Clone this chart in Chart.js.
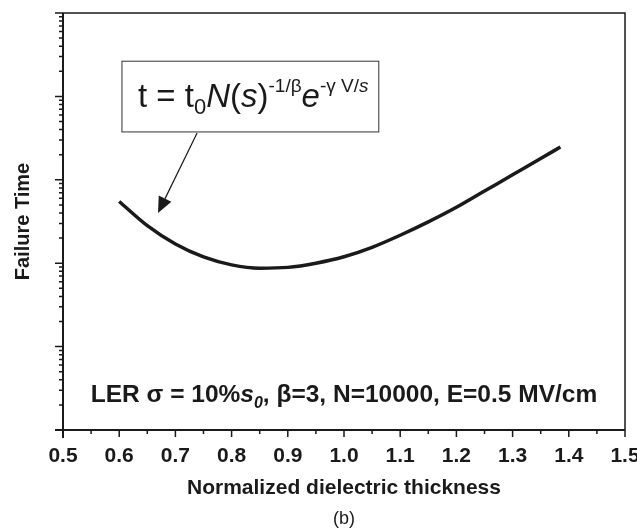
<!DOCTYPE html>
<html>
<head>
<meta charset="utf-8">
<script src="https://cdn.jsdelivr.net/npm/chart.js@4.4.0/dist/chart.umd.min.js"></script>
<style>
  html, body { margin: 0; padding: 0; background: #fff; }
  #wrap { width: 637px; height: 532px; }
</style>
</head>
<body>
<div id="wrap"><canvas id="chart"></canvas></div>
<script>
// normalized dielectric thickness (s/s0) and failure time (arbitrary units, log axis)
const thickness   = [0.60, 0.65, 0.70, 0.75, 0.80, 0.85, 0.90, 0.95, 1.00, 1.05, 1.10, 1.15, 1.20, 1.25, 1.30, 1.35, 1.385];
const failureTime = [549.5, 281.8, 169.8, 118.9, 95.5, 87.1, 89.1, 100, 119.4, 154.9, 216.3, 312.6, 467.7, 732.8, 1148, 1799, 2472];
const xRange = [0.5, 1.5];
const yRange = [1, 1e5];

const ink = '#1a1a1a';
const FONT = '"Liberation Sans", Arial, Helvetica, sans-serif';

function drawRich(ctx, parts, x, y, align) {
  let w = 0;
  parts.forEach(p => { ctx.font = p.font; w += ctx.measureText(p.t).width; });
  let cx = align === 'center' ? x - w / 2 : x;
  parts.forEach(p => {
    ctx.font = p.font;
    ctx.fillText(p.t, cx, y + (p.dy || 0));
    cx += ctx.measureText(p.t).width;
  });
}

const frameAndNotes = {
  id: 'frameAndNotes',
  afterDraw(chart) {
    const { ctx, chartArea: a, scales: { x, y } } = chart;
    ctx.save();
    ctx.strokeStyle = ink;
    ctx.fillStyle = ink;

    // axes (a little past the corner, like the original)
    ctx.lineWidth = 2;
    ctx.beginPath();
    ctx.moveTo(a.left - 8, a.bottom); ctx.lineTo(a.right, a.bottom);
    ctx.moveTo(a.left, a.top); ctx.lineTo(a.left, a.bottom + 8);
    ctx.stroke();
    ctx.lineWidth = 1.5;
    ctx.beginPath();
    ctx.moveTo(a.left, a.top); ctx.lineTo(a.right, a.top); ctx.lineTo(a.right, a.bottom);
    ctx.stroke();

    // x ticks: major at labels, minor halfway
    ctx.beginPath();
    x.ticks.forEach((t, i) => {
      const px = x.getPixelForValue(t.value);
      ctx.moveTo(px, a.bottom); ctx.lineTo(px, a.bottom + 7);
      if (i < x.ticks.length - 1) {
        const mx = x.getPixelForValue((t.value + x.ticks[i + 1].value) / 2);
        ctx.moveTo(mx, a.bottom); ctx.lineTo(mx, a.bottom + 4);
      }
    });
    // y ticks: decades + 2..9
    for (let d = yRange[0]; d < yRange[1]; d *= 10) {
      for (let k = 1; k <= 9; k++) {
        const py = y.getPixelForValue(d * k);
        ctx.moveTo(a.left, py); ctx.lineTo(a.left - (k === 1 ? 8 : 4), py);
      }
    }
    const pyTop = y.getPixelForValue(yRange[1]);
    ctx.moveTo(a.left, pyTop); ctx.lineTo(a.left - 8, pyTop);
    ctx.stroke();

    // formula box
    const bx0 = x.getPixelForValue(0.604), bx1 = x.getPixelForValue(1.061);
    const by0 = y.getPixelForValue(Math.pow(10, 4.428)), by1 = y.getPixelForValue(Math.pow(10, 3.58));
    ctx.lineWidth = 1;
    ctx.strokeStyle = '#333';
    ctx.strokeRect(bx0 + 0.5, by0 + 0.5, bx1 - bx0, by1 - by0);

    ctx.textBaseline = 'alphabetic';
    const F = 33, S = 19, up = -15;
    drawRich(ctx, [
      { t: 't = t', font: `${F}px ${FONT}` },
      { t: '0', font: `22px ${FONT}`, dy: 7 },
      { t: 'N', font: `italic ${F}px ${FONT}` },
      { t: '(', font: `${F}px ${FONT}` },
      { t: 's', font: `italic ${F}px ${FONT}` },
      { t: ')', font: `${F}px ${FONT}` },
      { t: '-1/\u03b2', font: `${S}px ${FONT}`, dy: up },
      { t: 'e', font: `italic ${F}px ${FONT}` },
      { t: '-\u03b3', font: `${S}px ${FONT}`, dy: up },
      { t: ' V/', font: `${S}px ${FONT}`, dy: up },
      { t: 's', font: `italic ${S}px ${FONT}`, dy: up }
    ], x.getPixelForValue(0.6335), y.getPixelForValue(Math.pow(10, 3.877)), 'left');

    // arrow from the box to the curve
    const ax0 = x.getPixelForValue(0.7386), ay0 = y.getPixelForValue(Math.pow(10, 3.561));
    const ax1 = x.getPixelForValue(0.6691), ay1 = y.getPixelForValue(Math.pow(10, 2.602));
    const ang = Math.atan2(ay1 - ay0, ax1 - ax0);
    const head = 16, half = 7;
    const hx = ax1 - head * Math.cos(ang), hy = ay1 - head * Math.sin(ang);
    ctx.lineWidth = 1.2;
    ctx.strokeStyle = ink;
    ctx.beginPath();
    ctx.moveTo(ax0, ay0); ctx.lineTo(hx, hy);
    ctx.stroke();
    ctx.beginPath();
    ctx.moveTo(ax1, ay1);
    ctx.lineTo(hx + half * Math.sin(ang), hy - half * Math.cos(ang));
    ctx.lineTo(hx - half * Math.sin(ang), hy + half * Math.cos(ang));
    ctx.closePath();
    ctx.fill();

    // parameter note
    const B = 24.5;
    drawRich(ctx, [
      { t: 'LER \u03c3 = 10%', font: `bold ${B}px ${FONT}` },
      { t: 's', font: `bold italic ${B}px ${FONT}` },
      { t: '0', font: `bold italic 16px ${FONT}`, dy: 6 },
      { t: ', \u03b2=3, N=10000, E=0.5 MV/cm', font: `bold ${B}px ${FONT}` }
    ], x.getPixelForValue(1.0), y.getPixelForValue(Math.pow(10, 0.33)), 'center');

    // panel label
    ctx.font = `18px ${FONT}`;
    ctx.textAlign = 'center';
    ctx.fillText('(b)', x.getPixelForValue(1.0), 524);
    ctx.restore();
  }
};

new Chart(document.getElementById('chart'), {
  type: 'line',
  data: {
    datasets: [{
      data: thickness.map((t, i) => ({ x: t, y: failureTime[i] })),
      borderColor: ink,
      borderWidth: 3.5,
      pointRadius: 0,
      cubicInterpolationMode: 'monotone',
      fill: false
    }]
  },
  options: {
    responsive: true,
    maintainAspectRatio: false,
    animation: false,
    devicePixelRatio: 1,
    layout: { padding: { top: 13, right: 12, left: 0, bottom: 0 } },
    plugins: {
      legend: { display: false },
      tooltip: { enabled: false },
      title: { display: false }
    },
    scales: {
      x: {
        type: 'linear',
        min: xRange[0], max: xRange[1],
        grid: { display: false, drawTicks: false },
        border: { display: false },
        ticks: {
          stepSize: 0.1, autoSkip: false, maxRotation: 0, padding: 14,
          color: ink,
          font: { family: FONT, size: 21, weight: 'bold' },
          callback: v => v.toFixed(1)
        },
        title: {
          display: true,
          text: 'Normalized dielectric thickness',
          color: ink,
          font: { family: FONT, size: 21, weight: 'bold' },
          padding: { top: 0, bottom: 31 }
        },
        afterFit: s => { s.height = 102; s.paddingLeft = 0; s.paddingRight = 0; }
      },
      y: {
        type: 'logarithmic',
        min: yRange[0], max: yRange[1],
        grid: { display: false, drawTicks: false },
        border: { display: false },
        ticks: { display: false },
        title: {
          display: true,
          text: 'Failure Time',
          color: ink,
          font: { family: FONT, size: 20, weight: 'bold' },
          padding: { top: 11, bottom: 0 }
        },
        afterFit: s => { s.width = 63; }
      }
    }
  },
  plugins: [frameAndNotes]
});
</script>
</body>
</html>
